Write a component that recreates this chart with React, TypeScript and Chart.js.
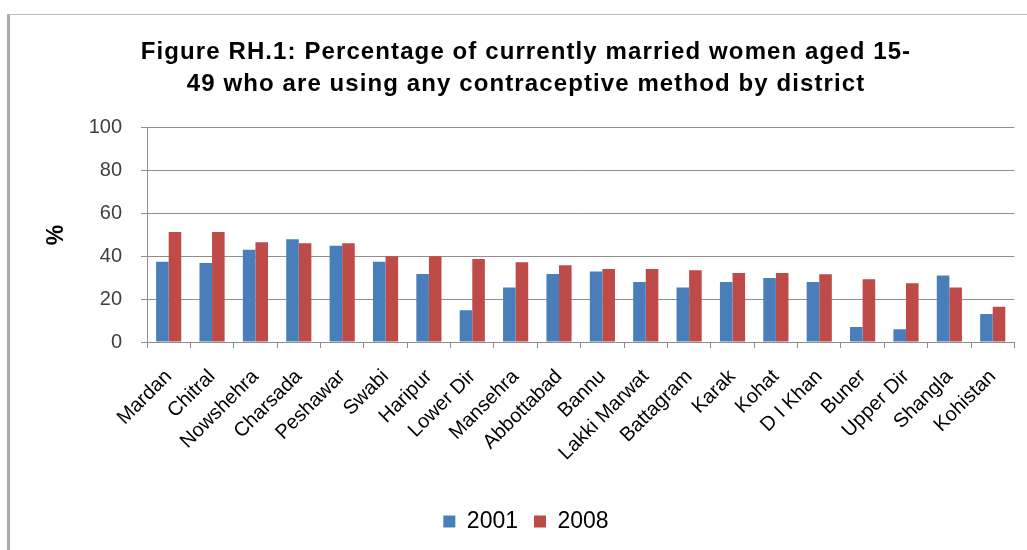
import { useEffect, useRef } from "react";
import { Chart, registerables } from "chart.js";

Chart.register(...registerables);

// Districts ordered by 2008 contraceptive prevalence
const districts = [
  "Mardan", "Chitral", "Nowshehra", "Charsada", "Peshawar", "Swabi", "Haripur",
  "Lower Dir", "Mansehra", "Abbottabad", "Bannu", "Lakki Marwat", "Battagram",
  "Karak", "Kohat", "D I Khan", "Buner", "Upper Dir", "Shangla", "Kohistan",
];

const use2001 = [
  37.5, 36.9, 43.1, 48.0, 44.9, 37.5, 31.8, 14.8, 25.5, 31.8,
  32.9, 28.0, 25.5, 28.0, 29.9, 28.0, 7.0, 5.9, 31.0, 13.1,
];

const use2008 = [
  51.4, 51.4, 46.6, 46.1, 46.1, 40.0, 40.0, 38.8, 37.2, 35.8,
  34.1, 34.1, 33.5, 32.2, 32.2, 31.6, 29.3, 27.4, 25.5, 16.5,
];

const seriesNames = ["2001", "2008"];
const yMin = 0;
const yMax = 100;
const yStep = 20;

const titleLines = [
  "Figure RH.1: Percentage of currently married women aged 15-",
  "49 who are using any contraceptive method by district",
];

const FONT = "'Liberation Sans', Arial, sans-serif";
const GRID = "#8f8f8f";

// Widen the title's tracking only; the other texts keep normal spacing.
const titleSpacing = {
  id: "titleSpacing",
  beforeDraw(chart: any) {
    const block = chart.titleBlock;
    if (!block || block.__spaced) return;
    const original = block.draw.bind(block);
    block.draw = (...args: any[]) => {
      const ctx = chart.ctx as any;
      ctx.save();
      ctx.letterSpacing = "1.1px";
      original(...args);
      ctx.restore();
    };
    block.__spaced = true;
  },
};

export default function App() {
  const canvasRef = useRef<HTMLCanvasElement | null>(null);

  useEffect(() => {
    const canvas = canvasRef.current;
    if (!canvas) return;
    const chart = new Chart(canvas, {
      type: "bar",
      data: {
        labels: districts,
        datasets: [
          {
            label: seriesNames[0],
            data: use2001,
            backgroundColor: "#4a7ebb",
            barPercentage: 1,
            categoryPercentage: 0.58,
          },
          {
            label: seriesNames[1],
            data: use2008,
            backgroundColor: "#be4b48",
            barPercentage: 1,
            categoryPercentage: 0.58,
          },
        ],
      },
      plugins: [titleSpacing],
      options: {
        animation: false,
        responsive: false,
        maintainAspectRatio: false,
        layout: { padding: { top: 26, left: 37, right: 12, bottom: 7 } },
        plugins: {
          tooltip: { enabled: false },
          title: {
            display: true,
            text: titleLines,
            color: "#000",
            font: { family: FONT, size: 24, weight: "bold", lineHeight: 1.35 },
            padding: { top: 10, bottom: 27 },
          },
          legend: {
            position: "bottom",
            labels: {
              color: "#000",
              font: { family: FONT, size: 23 },
              boxWidth: 12,
              boxHeight: 12,
              padding: 16,
            },
          },
        },
        scales: {
          x: {
            offset: true,
            afterFit: (scale: any) => {
              scale.height = 152;
            },
            grid: {
              display: true,
              offset: true,
              drawOnChartArea: false,
              drawTicks: true,
              tickLength: 6,
              color: GRID,
            },
            border: { display: true, color: GRID, width: 1 },
            ticks: {
              autoSkip: false,
              minRotation: 45,
              maxRotation: 45,
              padding: 17,
              color: "#000",
              font: { family: FONT, size: 20 },
            },
          },
          y: {
            min: yMin,
            max: yMax,
            afterFit: (scale: any) => {
              scale.width = 110;
            },
            grid: { color: GRID, tickLength: 6, lineWidth: 1 },
            border: { display: true, color: GRID, width: 1 },
            ticks: {
              stepSize: yStep,
              padding: 19,
              color: "#404040",
              font: { family: FONT, size: 20 },
            },
            title: {
              display: true,
              text: "%",
              color: "#000",
              font: { family: FONT, size: 23, weight: "bold" },
              padding: { top: 6, bottom: 0 },
            },
          },
        },
      },
    });
    return () => chart.destroy();
  }, []);

  return (
    <div style={{ position: "fixed", left: 0, top: 0, width: 1027, height: 550, background: "#fff" }}>
      <div
        style={{
          position: "absolute",
          left: 7,
          top: 14,
          right: 0,
          bottom: 0,
          borderLeft: "3px solid #aaaaaa",
          borderTop: "1px solid #bbbbbb",
        }}
      />
      <canvas
        ref={canvasRef}
        width={1027}
        height={550}
        style={{ position: "absolute", left: 0, top: 0, width: 1027, height: 550 }}
      />
    </div>
  );
}
